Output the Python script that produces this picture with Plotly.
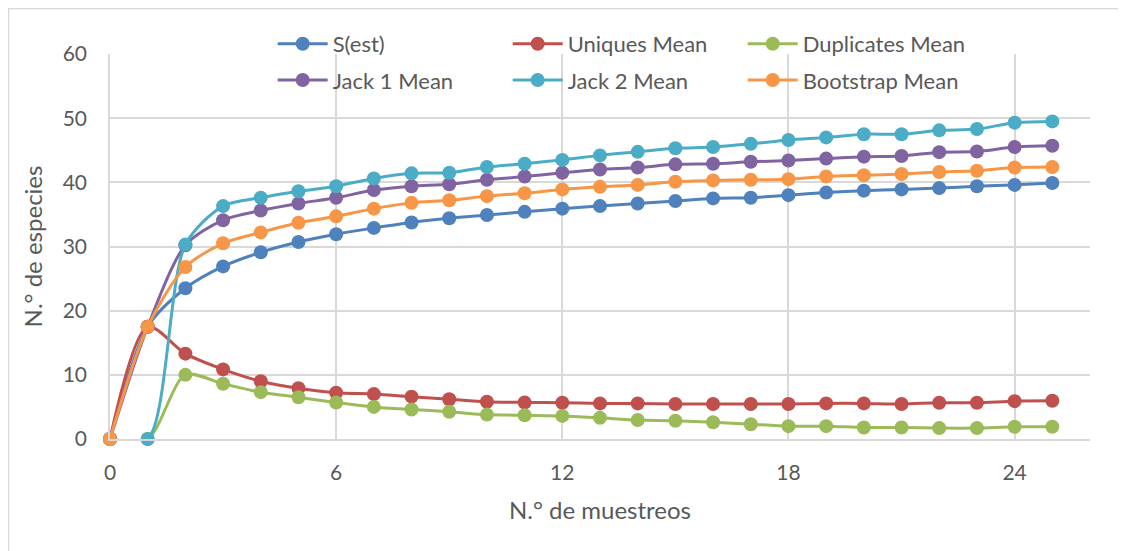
import plotly.graph_objects as go

x = list(range(26))

s_est = [0, 17.5, 23.5, 26.9, 29.1, 30.7, 31.9, 32.9, 33.75, 34.4, 34.9, 35.4, 35.9, 36.3, 36.7, 37.1,
         37.5, 37.6, 38.0, 38.4, 38.7, 38.9, 39.1, 39.4, 39.6, 39.9]
uniques = [0, 17.5, 13.3, 10.85, 9.0, 7.9, 7.2, 7.0, 6.6, 6.2, 5.8, 5.7, 5.65, 5.55, 5.55, 5.45,
           5.45, 5.45, 5.45, 5.55, 5.55, 5.45, 5.65, 5.65, 5.9, 5.95]
duplicates = [0, 0, 10.0, 8.6, 7.3, 6.5, 5.7, 5.0, 4.6, 4.25, 3.8, 3.7, 3.6, 3.3, 2.96, 2.85,
              2.6, 2.3, 2.0, 2.0, 1.8, 1.8, 1.7, 1.7, 1.9, 1.9]
jack1 = [0, 17.5, 30.2, 34.1, 35.6, 36.7, 37.6, 38.8, 39.4, 39.7, 40.4, 40.9, 41.5, 42.0, 42.3, 42.8,
         42.9, 43.2, 43.4, 43.7, 44.0, 44.1, 44.7, 44.8, 45.5, 45.7]
jack2 = [0, 0, 30.3, 36.3, 37.6, 38.6, 39.4, 40.6, 41.4, 41.5, 42.4, 42.9, 43.5, 44.2, 44.75, 45.3,
         45.5, 46.0, 46.6, 47.0, 47.5, 47.5, 48.1, 48.3, 49.3, 49.5]
bootstrap = [0, 17.5, 26.8, 30.5, 32.2, 33.7, 34.7, 35.9, 36.8, 37.2, 37.85, 38.3, 38.9, 39.3, 39.6, 40.1,
             40.3, 40.4, 40.5, 40.9, 41.1, 41.3, 41.6, 41.8, 42.3, 42.4]

series = [
    ("S(est)", s_est, "#4f81bd", "legend"),
    ("Uniques Mean", uniques, "#c0504d", "legend"),
    ("Duplicates Mean", duplicates, "#9bbb59", "legend"),
    ("Jack 1 Mean", jack1, "#8064a2", "legend2"),
    ("Jack 2 Mean", jack2, "#4bacc6", "legend2"),
    ("Bootstrap Mean", bootstrap, "#f79646", "legend2"),
]

FONT = "Lato"
TXT = "#595959"
GRID = "#d9d9d9"

fig = go.Figure()
for name, ys, col, lg in series:
    fig.add_trace(go.Scatter(
        x=x, y=ys, name=name, mode="lines+markers",
        line=dict(color=col, width=3, shape="spline", smoothing=0.8),
        marker=dict(color=col, size=14),
        legend=lg, cliponaxis=False,
    ))

leg_common = dict(orientation="h", xanchor="left", yanchor="middle",
                  font=dict(family=FONT, size=22, color=TXT),
                  bgcolor="rgba(0,0,0,0)", entrywidth=170, entrywidthmode="pixels",
                  itemwidth=50)

# page is rendered with an 8px body margin, so margins are offset accordingly
fig.update_layout(
    width=1126, height=551,
    margin=dict(l=102, r=44, t=46, b=120, autoexpand=False),
    paper_bgcolor="white", plot_bgcolor="white",
    font=dict(family=FONT, color=TXT),
    showlegend=True,
    legend=dict(x=0.166, y=1.026, **leg_common),
    legend2=dict(x=0.166, y=0.932, **leg_common),
    xaxis=dict(range=[0, 26], tick0=0, dtick=6, showgrid=True, gridcolor=GRID, gridwidth=1.5,
               zeroline=False, showline=True, linecolor=GRID, linewidth=1.5,
               tickfont=dict(family=FONT, size=21, color=TXT), ticks="", ticklen=0,
               ticklabelstandoff=14,
               title=dict(text="N.° de muestreos", font=dict(family=FONT, size=24, color=TXT), standoff=19)),
    yaxis=dict(range=[0, 60], dtick=10, showgrid=True, gridcolor=GRID, gridwidth=1.5,
               zeroline=False, showline=True, linecolor=GRID, linewidth=1.5, ticks="", ticklen=0,
               ticklabelstandoff=17,
               tickfont=dict(family=FONT, size=21, color=TXT),
               title=dict(text="N.° de especies", font=dict(family=FONT, size=24, color=TXT), standoff=13)),
    shapes=[dict(type="rect", xref="paper", yref="paper",
                 x0=(0.5 - 102) / 980, x1=(1160 - 102) / 980,
                 y0=(431 - 620) / 385, y1=(431 - 0.5) / 385,
                 line=dict(color=GRID, width=1.5), layer="below")],
)

fig.write_html("out.html")
